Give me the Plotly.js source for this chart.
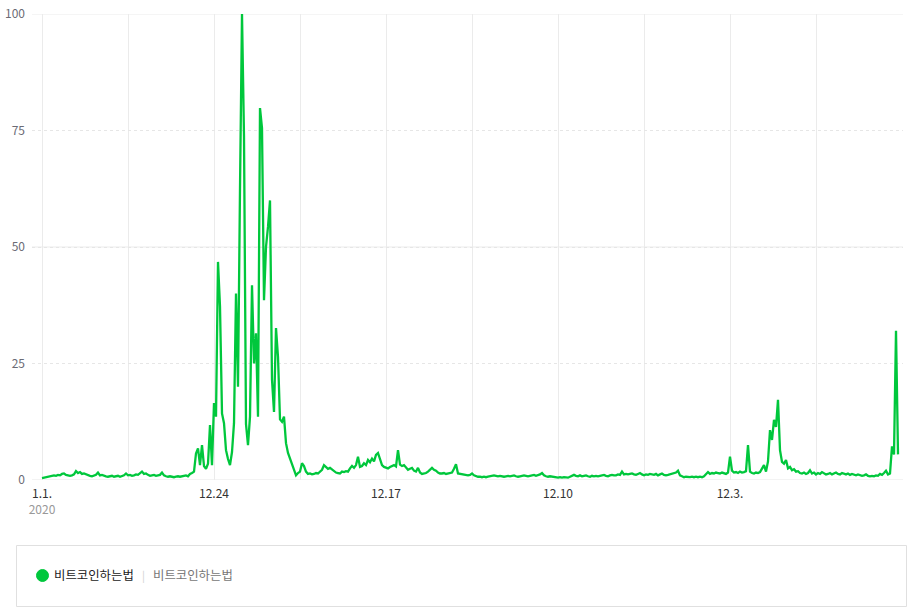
<!DOCTYPE html>
<html>
<head>
<meta charset="utf-8">
<script src="https://cdn.plot.ly/plotly-3.0.1.min.js"></script>
<style>
  html, body { margin: 0; padding: 0; background: #fff; }
  #trendPlot { width: 918px; height: 614px; }
</style>
</head>
<body>
<div id="trendPlot"></div>
<script>
// search interest, one value per step in pieces
var quietStart = [0.4, 0.5, 0.6, 0.7, 0.7, 0.9, 1.0, 0.9, 1.1, 1.0,
    1.3, 1.4, 1.1, 1.0, 0.9, 1.0, 1.2, 1.9, 1.5, 1.7,
    1.3, 1.4, 1.2, 1.1, 0.9, 0.8, 1.0, 1.1, 1.6, 1.0,
    1.1, 0.9, 0.8, 0.7, 0.8, 0.9, 0.7, 0.8, 0.9, 0.7,
    0.8, 1.0, 1.4, 1.0, 1.1, 0.9, 1.0, 1.2, 1.1, 1.5,
    1.8, 1.3, 1.4, 1.1, 0.9, 1.0, 1.1, 0.9, 1.0, 1.1,
    1.6, 1.0, 0.8, 0.7, 0.8, 0.7, 0.6, 0.7, 0.8, 0.7,
    0.8, 0.9, 1.0, 0.8, 1.3, 1.5, 1.8]
var bigSpike = [5.7, 6.8, 3.2, 7.5, 3.0, 2.4, 3.5, 11.8, 3.2, 16.5,
    13.6, 46.8, 37.2, 14.3, 12.2, 6.4, 4.5, 3.2, 6.0, 12.2,
    40, 20, 62.6, 100, 73.7, 12, 7.5, 13.6, 41.8, 25,
    31.5, 13.6, 79.8, 75.5, 38.6, 50, 54.3, 60, 21.5, 14.6,
    32.6, 26.4, 13, 12.5, 13.6, 7.9, 5.8, 4.5, 3.2, 2.2,
    1.0, 1.5, 1.8]
var afterSpike = [3.6, 3.0, 1.8, 1.3, 1.4, 1.2, 1.3, 1.5, 1.4, 1.8,
    2.2, 3.2, 2.8, 2.4, 2.6, 2.2, 2.0, 1.6, 1.5, 1.4,
    1.8, 1.7, 1.9, 1.8, 2.5, 3.0, 2.6, 3.2, 5.0, 2.8,
    3.0, 3.6, 3.2, 4.3, 3.8, 4.6, 4.0, 5.4, 5.8, 4.3,
    3.2, 2.8, 2.6, 2.5, 2.8, 3.0, 3.2, 2.9, 6.4, 3.3,
    3.0, 3.2, 2.6, 2.2, 2.4, 2.6, 2.0, 1.8, 2.6, 1.6,
    1.3, 1.4, 1.5, 1.8, 2.2, 2.6, 2.2, 2.0, 1.6, 1.4,
    1.4, 1.5, 1.3, 1.4, 1.5, 1.6, 2.4, 3.4, 1.4, 1.3,
    1.2, 1.2, 1.1, 1.0, 1.1]
var flatMiddle = [1.4, 1.0, 0.8, 0.7, 0.7, 0.6, 0.7, 0.6, 0.7, 0.8,
    0.9, 1.0, 0.9, 0.8, 0.9, 0.8, 0.7, 0.8, 0.9, 0.8,
    0.9, 1.0, 0.8, 0.7, 0.8, 0.9, 1.0, 0.9, 0.8, 0.9,
    1.0, 1.1, 0.9, 1.0, 1.2, 1.5, 1.0, 0.8, 0.7, 0.8,
    0.7, 0.6, 0.6, 0.5, 0.6, 0.5, 0.6, 0.6, 0.5, 0.7,
    0.9, 1.1, 0.9, 0.8, 1.0, 0.8, 0.9, 1.0, 0.8, 0.7,
    0.9, 0.8, 0.9, 0.8, 0.9, 1.0, 1.1, 0.9, 0.8, 1.0,
    1.1, 1.0, 1.0, 1.2, 1.1, 1.8, 1.2, 1.3, 1.2, 1.3,
    1.4, 1.2, 1.1, 1.3, 1.5, 1.2, 1.0, 1.2, 1.1, 1.3,
    1.2, 1.1, 1.3, 1.0, 1.2, 1.4, 1.1, 1.0, 1.1, 1.2,
    1.3, 1.4, 1.6, 2.0, 1.0, 0.8, 0.6, 0.7, 0.6, 0.6,
    0.7, 0.6, 0.7, 0.6, 0.7, 0.6, 0.8, 1.2, 1.7, 1.3]
var smallSpike = [1.5, 1.4, 1.6, 1.5, 1.4, 1.6, 1.5, 1.3, 1.6, 5.0,
    2.0, 1.6, 1.7, 1.5, 1.8, 1.6, 1.7, 1.9, 7.5, 1.8,
    1.5, 1.4, 1.6, 1.5, 1.7, 2.5, 3.2, 1.8, 4.0, 10.7,
    8.6, 12.9, 11.4, 17.2, 6.4, 3.9, 3.5, 4.3, 2.5, 2.8,
    2.1, 2.3, 1.8, 1.9, 1.5]
var lastPart = [1.4, 1.6, 1.3, 1.5, 2.1, 1.4, 1.6, 1.2, 1.5, 1.3,
    1.7, 1.4, 1.2, 1.3, 1.5, 1.2, 1.4, 1.6, 1.3, 1.2,
    1.5, 1.3, 1.2, 1.4, 1.1, 1.3, 1.2, 1.0, 1.2, 1.1,
    0.9, 1.0, 1.2, 0.9, 0.8, 0.9, 0.8, 1.0, 0.9, 1.3,
    1.1, 1.5, 2.0, 1.2, 1.4, 7.2, 5.5, 32, 5.5]

var tickSteps = [0, 43, 86, 129, 172, 215, 258, 301, 344, 387]
var tickNames = ['1.1.<br><span style="color:#999">2020</span>', '', '12.24', '', '12.17', '', '12.10', '', '12.3.', '']
var yTicks = [0, 25, 50, 75, 100]
var seriesName = '비트코인하는법'

// plot box in page pixels
var L = 32, R = 903, T = 14, B = 480
function px(x) { return (x - L) / (R - L) }
function py(y) { return (B - y) / (B - T) }

window.onload = () => {
    var values = quietStart.concat(bigSpike, afterSpike, flatMiddle, smallSpike, lastPart)
    var steps = values.map((v, i) => i)

    var trace = {
        x: steps,
        y: values,
        mode: 'lines',
        line: {color: '#00c73c', width: 2.3},
        hoverinfo: 'skip',
        showlegend: false
    }

    var font = '"Noto Sans CJK KR", "Noto Sans", sans-serif'

    var layout = {
        width: 918,
        height: 614,
        margin: {l: L, r: 918 - R, t: T, b: 614 - B},
        paper_bgcolor: '#fff',
        plot_bgcolor: '#fff',
        font: {family: font, size: 12, color: '#333'},
        showlegend: false,
        xaxis: {
            range: [-5, 430.5],
            tickvals: tickSteps,
            ticktext: tickNames,
            tickangle: 0,
            showgrid: true,
            gridcolor: '#ebebeb',
            gridwidth: 1,
            zeroline: false,
            showline: false,
            ticks: '',
            ticklabelstandoff: 5,
            tickfont: {size: 12, color: '#333'},
            fixedrange: true
        },
        yaxis: {
            range: [0, 100],
            tickvals: yTicks,
            ticktext: yTicks.map(String),
            showgrid: true,
            gridcolor: '#e6e6e6',
            griddash: '3px,3px',
            zeroline: false,
            showline: false,
            ticks: '',
            ticklabelstandoff: 6,
            tickfont: {size: 12, color: '#6b6b75'},
            fixedrange: true
        },
        shapes: [
            // solid lines at 0, 50 and 100 over the dotted grid
            {type: 'line', xref: 'paper', yref: 'y', x0: 0, x1: 1, y0: 0, y1: 0, layer: 'below', line: {color: '#e6e6e6', width: 1}},
            {type: 'line', xref: 'paper', yref: 'y', x0: 0, x1: 1, y0: 50, y1: 50, layer: 'below', line: {color: '#ebebeb', width: 1}},
            {type: 'line', xref: 'paper', yref: 'y', x0: 0, x1: 1, y0: 100, y1: 100, layer: 'below', line: {color: '#ebebeb', width: 1}},
            // legend box
            {type: 'rect', xref: 'paper', yref: 'paper', x0: px(16.5), x1: px(906.5), y0: py(606.5), y1: py(545.5), line: {color: '#e0e0e0', width: 1}, fillcolor: '#fff'},
            {type: 'circle', xref: 'paper', yref: 'paper', x0: px(36.5), x1: px(48.5), y0: py(581.5), y1: py(569.5), line: {color: '#00c73c', width: 1}, fillcolor: '#00c73c'}
        ],
        annotations: [
            {xref: 'paper', yref: 'paper', x: px(52), y: py(575), xanchor: 'left', yanchor: 'middle', showarrow: false, text: seriesName, font: {size: 12.4, color: '#222'}},
            {xref: 'paper', yref: 'paper', x: px(143), y: py(575), xanchor: 'center', yanchor: 'middle', showarrow: false, text: '|', font: {size: 11, color: '#d0d0d0'}},
            {xref: 'paper', yref: 'paper', x: px(151), y: py(575), xanchor: 'left', yanchor: 'middle', showarrow: false, text: seriesName, font: {size: 12.4, color: '#777'}}
        ]
    }

    Plotly.newPlot('trendPlot', [trace], layout, {displayModeBar: false, staticPlot: true})
}
</script>
</body>
</html>
